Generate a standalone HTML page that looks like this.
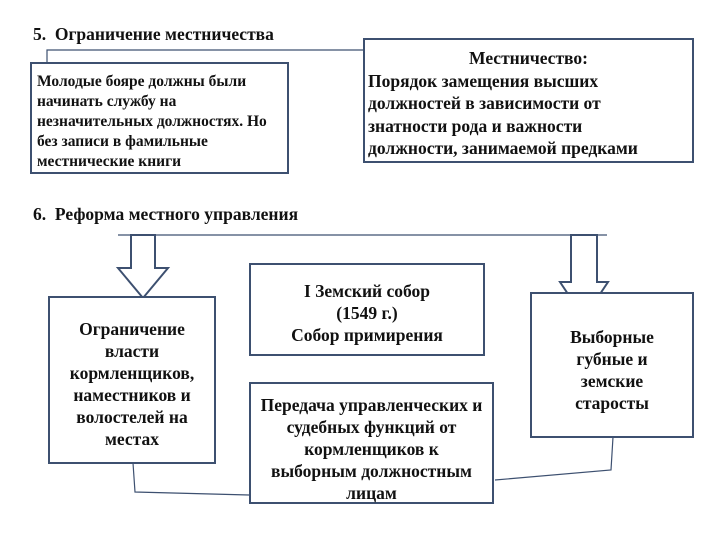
<!DOCTYPE html>
<html><head><meta charset="utf-8"><style>
body{margin:0;width:720px;height:540px;background:#fff;position:relative;font-family:"Liberation Serif",serif;font-weight:bold;color:#111;overflow:hidden}
.b{position:absolute;border:2px solid #3d5070;box-sizing:border-box;background:#fff;white-space:nowrap}
.t{position:absolute;white-space:nowrap}
.c{text-align:center}
</style></head><body>
<div class="t" style="left:33px;top:24px;font-size:17.5px">5.&nbsp; Ограничение местничества</div>
<div class="t" style="left:33px;top:204px;font-size:17.5px">6.&nbsp; Реформа местного управления</div>
<svg width="720" height="540" style="position:absolute;left:0;top:0">
<g fill="none" stroke="#3d5070" stroke-width="1.2">
<polyline points="363,50 47,50 47,62"/>
<line x1="118" y1="235" x2="607" y2="235"/>
<polyline points="133,463 135,492 249,495"/>
<polyline points="613,437 611,470 495,480"/>
</g>
<g fill="#fff" stroke="#3d5070" stroke-width="2">
<polygon points="131,235 155,235 155,268 168,268 143,298 118,268 131,268"/>
<polygon points="571,235 597,235 597,282 608,282 584,318 560,282 571,282"/>
</g>
</svg>
<div class="b" style="left:30px;top:62px;width:259px;height:112px;font-size:15.5px;line-height:20px;padding:8px 0 0 5px">Молодые бояре должны были<br>начинать службу на<br>незначительных должностях. Но<br>без записи в фамильные<br>местнические книги</div>
<div class="b c" style="left:363px;top:38px;width:331px;height:125px;font-size:17.5px;line-height:22.5px;padding-top:7px">Местничество:<div style="text-align:left;padding-left:3px">Порядок замещения высших<br>должностей в зависимости от<br>знатности рода и важности<br>должности, занимаемой предками</div></div>
<div class="b c" style="left:48px;top:296px;width:168px;height:168px;font-size:17.5px;line-height:22px;padding-top:20px">Ограничение<br>власти<br>кормленщиков,<br>наместников и<br>волостелей на<br>местах</div>
<div class="b c" style="left:249px;top:263px;width:236px;height:93px;font-size:17.5px;line-height:22px;padding-top:15px">I Земский собор<br>(1549 г.)<br>Собор примирения</div>
<div class="b c" style="left:249px;top:382px;width:245px;height:122px;font-size:17.5px;line-height:22px;padding-top:10px">Передача управленческих и<br>судебных функций от<br>кормленщиков к<br>выборным должностным<br>лицам</div>
<div class="b c" style="left:530px;top:292px;width:164px;height:146px;font-size:17.5px;line-height:22px;padding-top:32px">Выборные<br>губные и<br>земские<br>старосты</div>
</body></html>
